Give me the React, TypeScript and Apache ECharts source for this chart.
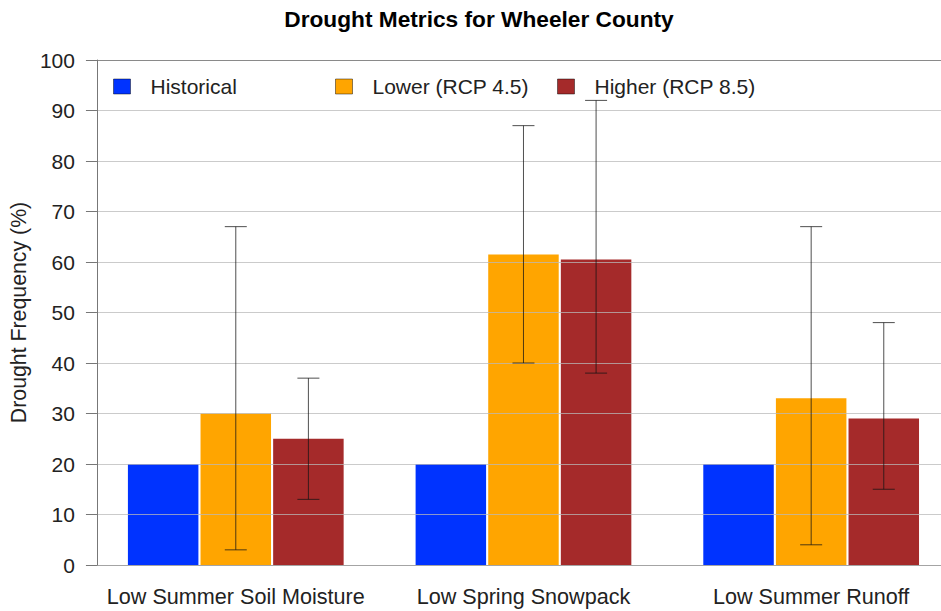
import React, { useEffect, useRef } from "react";
import * as echarts from "echarts";

const categories = ["Low Summer Soil Moisture", "Low Spring Snowpack", "Low Summer Runoff"];
const seriesNames = ["Historical", "Lower (RCP 4.5)", "Higher (RCP 8.5)"];
const historical = [20, 20, 20];
const lower = [30, 61.5, 33];
const higher = [25, 60.5, 29];
const lowerLow = [3, 40, 4];
const lowerHigh = [67, 87, 67];
const higherLow = [13, 38, 15];
const higherHigh = [37, 92, 48];
const colors = ["#0033FF", "#FFA500", "#A52A2A"];

const BAR_W = 70.5;
const BAR_GAP = 0.03;
const FONT = "'Liberation Sans', Arial, Helvetica, sans-serif";

function errorSeries(name: string, lows: number[], highs: number[], offset: number) {
  return {
    type: "custom",
    name: name + " range",
    z: 5,
    silent: true,
    data: categories.map((_, i) => [i, lows[i], highs[i]]),
    encode: { x: 0, y: [1, 2] },
    renderItem: (params: any, api: any) => {
      const i = api.value(0);
      const top = api.coord([i, api.value(2)]);
      const bot = api.coord([i, api.value(1)]);
      const x = top[0] + offset;
      const cap = 11;
      const style = { stroke: "rgba(20,20,20,0.75)", lineWidth: 1 };
      return {
        type: "group",
        children: [
          { type: "line", shape: { x1: x, y1: top[1], x2: x, y2: bot[1] }, style },
          { type: "line", shape: { x1: x - cap, y1: top[1], x2: x + cap, y2: top[1] }, style },
          { type: "line", shape: { x1: x - cap, y1: bot[1], x2: x + cap, y2: bot[1] }, style },
        ],
      };
    },
  };
}

export default function App() {
  const ref = useRef<HTMLDivElement>(null);
  useEffect(() => {
    document.body.style.margin = "0";
    const chart = echarts.init(ref.current!, null, { renderer: "svg" });
    const step = BAR_W * (1 + BAR_GAP);
    const gridColors = Array.from({ length: 11 }, (_, k) => (k === 10 ? "#8a8a8a" : "rgba(185,185,185,0.75)"));
    const legendBase = {
      top: 76,
      padding: 0,
      itemWidth: 17,
      itemHeight: 15,
      icon: "rect",
      selectedMode: false,
      itemStyle: { borderColor: "rgba(0,0,0,0.45)", borderWidth: 1 },
      textStyle: { fontSize: 21, fontFamily: FONT, color: "#222", padding: [0, 0, 0, 15] },
    };
    chart.setOption({
      animation: false,
      color: colors,
      title: {
        text: "Drought Metrics for Wheeler County",
        left: 474,
        textAlign: "center",
        top: 2,
        textStyle: { fontSize: 22.7, fontWeight: "bold", fontFamily: FONT, color: "#000" },
      },
      legend: [
        { ...legendBase, left: 113, data: [seriesNames[0]] },
        { ...legendBase, left: 335, data: [seriesNames[1]] },
        { ...legendBase, left: 557, data: [seriesNames[2]] },
      ],
      grid: { left: 89, top: 60, width: 866, height: 505 },
      xAxis: {
        type: "category",
        data: categories,
        axisTick: { show: false },
        axisLine: { lineStyle: { color: "#666", width: 1 } },
        axisLabel: { interval: 0, fontSize: 21.6, fontFamily: FONT, color: "#222", margin: 20 },
      },
      yAxis: {
        type: "value",
        min: 0,
        max: 100,
        interval: 10,
        offset: -5,
        z: 3,
        name: "Drought Frequency (%)",
        nameLocation: "middle",
        nameGap: 56,
        nameTextStyle: { fontSize: 21.3, fontFamily: FONT, color: "#222" },
        axisLine: { show: true, lineStyle: { color: "#777" } },
        axisTick: { show: true, length: 11, lineStyle: { color: "#777" } },
        axisLabel: { fontSize: 21, fontFamily: FONT, color: "#222", margin: 22 },
        splitLine: { show: true, lineStyle: { color: gridColors, width: 1 } },
      },
      series: [
        {
          type: "bar",
          name: seriesNames[0],
          data: historical,
          barWidth: BAR_W,
          barGap: BAR_GAP * 100 + "%",
          itemStyle: { color: colors[0] },
        },
        {
          type: "bar",
          name: seriesNames[1],
          data: lower,
          barWidth: BAR_W,
          barGap: BAR_GAP * 100 + "%",
          itemStyle: { color: colors[1] },
        },
        {
          type: "bar",
          name: seriesNames[2],
          data: higher,
          barWidth: BAR_W,
          barGap: BAR_GAP * 100 + "%",
          itemStyle: { color: colors[2] },
        },
        errorSeries(seriesNames[1], lowerLow, lowerHigh, 0),
        errorSeries(seriesNames[2], higherLow, higherHigh, step),
      ],
    });
    return () => chart.dispose();
  }, []);
  return (
    <div style={{ position: "absolute", left: 0, top: 0, width: 941, height: 611, overflow: "hidden" }}>
      <div ref={ref} style={{ width: 980, height: 611 }} />
    </div>
  );
}
